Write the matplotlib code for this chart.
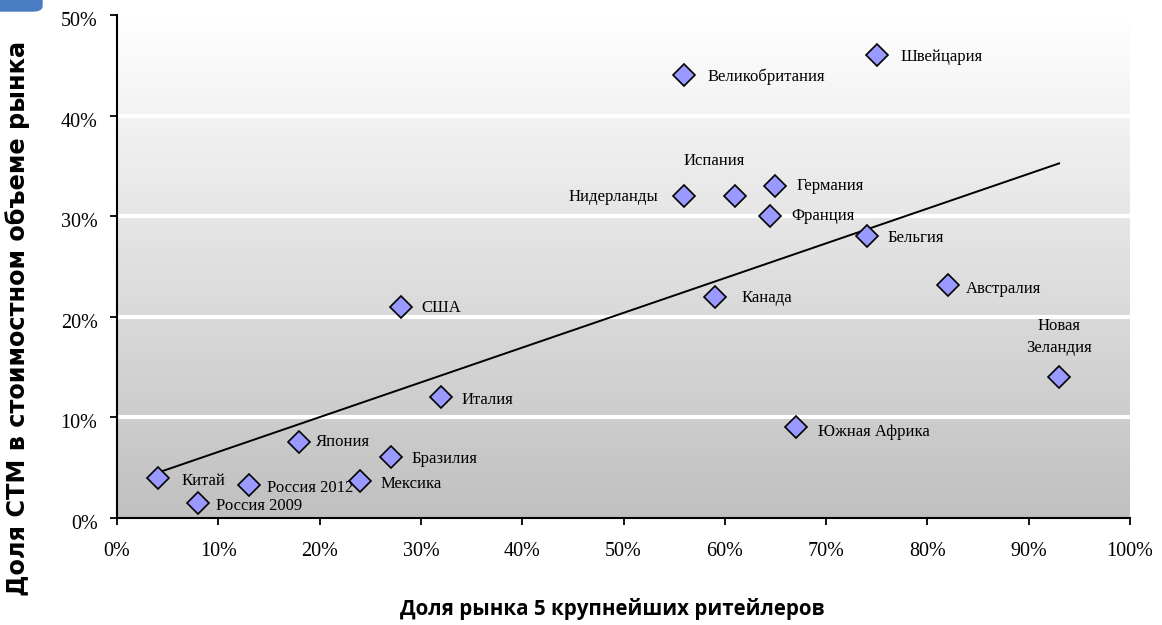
import numpy as np
import matplotlib
matplotlib.use("Agg")
import matplotlib.pyplot as plt
import matplotlib.transforms as mtransforms
from matplotlib.patches import FancyBboxPatch
from matplotlib.ticker import PercentFormatter
from matplotlib.colors import LinearSegmentedColormap

countries = ["Китай", "Россия 2009", "Россия 2012", "Япония", "Мексика", "Бразилия",
             "США", "Италия", "Нидерланды", "Испания", "Великобритания", "Германия",
             "Франция", "Канада", "Бельгия", "Швейцария", "Австралия", "Южная Африка",
             "Новая\nЗеландия"]
top5_share = [4, 8, 13, 18, 24, 27, 28, 32, 56, 61, 56, 65, 64.5, 59, 74, 75, 82, 67, 93]
pl_share = [4, 1.5, 3.3, 7.6, 3.7, 6.1, 21, 12, 32, 32, 44, 33, 30, 22, 28, 46, 23.2, 9, 14]

# label offsets in points (dx, dy, ha)
label_pos = {
    "Китай": (17, -2, "left"), "Россия 2009": (13, -2, "left"), "Россия 2012": (13, -2, "left"),
    "Япония": (12, 0, "left"), "Мексика": (15, -2, "left"), "Бразилия": (15, -2, "left"),
    "США": (15, -1, "left"), "Италия": (15, -2, "left"), "Нидерланды": (-19, -1, "right"),
    "Испания": (-15, 25, "center"), "Великобритания": (17, -1, "left"), "Германия": (15, 0, "left"),
    "Франция": (15, 0, "left"), "Канада": (19, -1, "left"), "Бельгия": (15, -1, "left"),
    "Швейцария": (17, -1, "left"), "Австралия": (13, -3, "left"), "Южная Африка": (16, -3, "left"),
    "Новая\nЗеландия": (0, 29, "center"),
}

fig = plt.figure(figsize=(11.62, 6.25), dpi=100)
ax = fig.add_axes([117/1162, 1-518/625, (1130-117)/1162, (518-15)/625])

# gradient background
grad = np.linspace(0, 1, 256).reshape(-1, 1)
cmap = LinearSegmentedColormap.from_list("g", ["#c0c0c0", "#ffffff"])
ax.imshow(grad, aspect="auto", cmap=cmap, extent=[0, 100, 0, 50], origin="lower", zorder=0)

ax.set_xlim(0, 100)
ax.set_ylim(0, 50)
for y in [10, 20, 30, 40]:
    ax.axhline(y, color="white", lw=3, zorder=1)

# trend line (least squares)
xs = np.array(top5_share, float)
ys = np.array(pl_share, float)
k, b = np.polyfit(xs, ys, 1)
xt = np.array([xs.min(), xs.max()])
ax.plot(xt, k*xt + b, color="black", lw=1.4, zorder=2)

ax.plot(top5_share, pl_share, linestyle="none", marker="D", ms=11,
        mfc="#9999ff", mec="black", mew=1.2, zorder=3)

serif = "Liberation Serif"
for name, x, y in zip(countries, top5_share, pl_share):
    dx, dy, ha = label_pos[name]
    ax.annotate(name, (x, y), xytext=(dx, dy), textcoords="offset points",
                ha=ha, va="center", fontsize=12, family=serif, zorder=4,
                linespacing=1.5)

ax.set_xticks(np.arange(0, 101, 10))
ax.set_yticks(np.arange(0, 51, 10))
ax.xaxis.set_major_formatter(PercentFormatter(decimals=0))
ax.yaxis.set_major_formatter(PercentFormatter(decimals=0))
ax.tick_params(direction="out", length=5, width=1.3, color="black")
ax.tick_params(axis="x", pad=12)
ax.tick_params(axis="y", pad=9)
for lab in ax.get_xticklabels() + ax.get_yticklabels():
    lab.set_family(serif)
    lab.set_fontsize(14.5)
shift = mtransforms.ScaledTranslation(0, -4/100, fig.dpi_scale_trans)
for lab in ax.get_yticklabels():
    lab.set_transform(lab.get_transform() + shift)
for s in ["top", "right"]:
    ax.spines[s].set_visible(False)
for s in ["left", "bottom"]:
    ax.spines[s].set_linewidth(1.5)

fig.text(612/1162, 1-609/625, "Доля рынка 5 крупнейших ритейлеров",
         ha="center", va="center", fontsize=14.8, fontweight="bold", family="Open Sans")
fig.text(18/1162, 1-318/625, "Доля СТМ в стоимостном объеме рынка", rotation=90,
         ha="center", va="center", fontsize=17.3, fontweight="bold", family="DejaVu Sans")

fig.patches.append(FancyBboxPatch((-0.01, 1-11/625), 0.01 + 42/1162, 0.05,
                                  boxstyle="round,pad=0,rounding_size=0.008",
                                  transform=fig.transFigure, color="#4a7cc4", clip_on=False))

fig.savefig("out.png", dpi=100)
